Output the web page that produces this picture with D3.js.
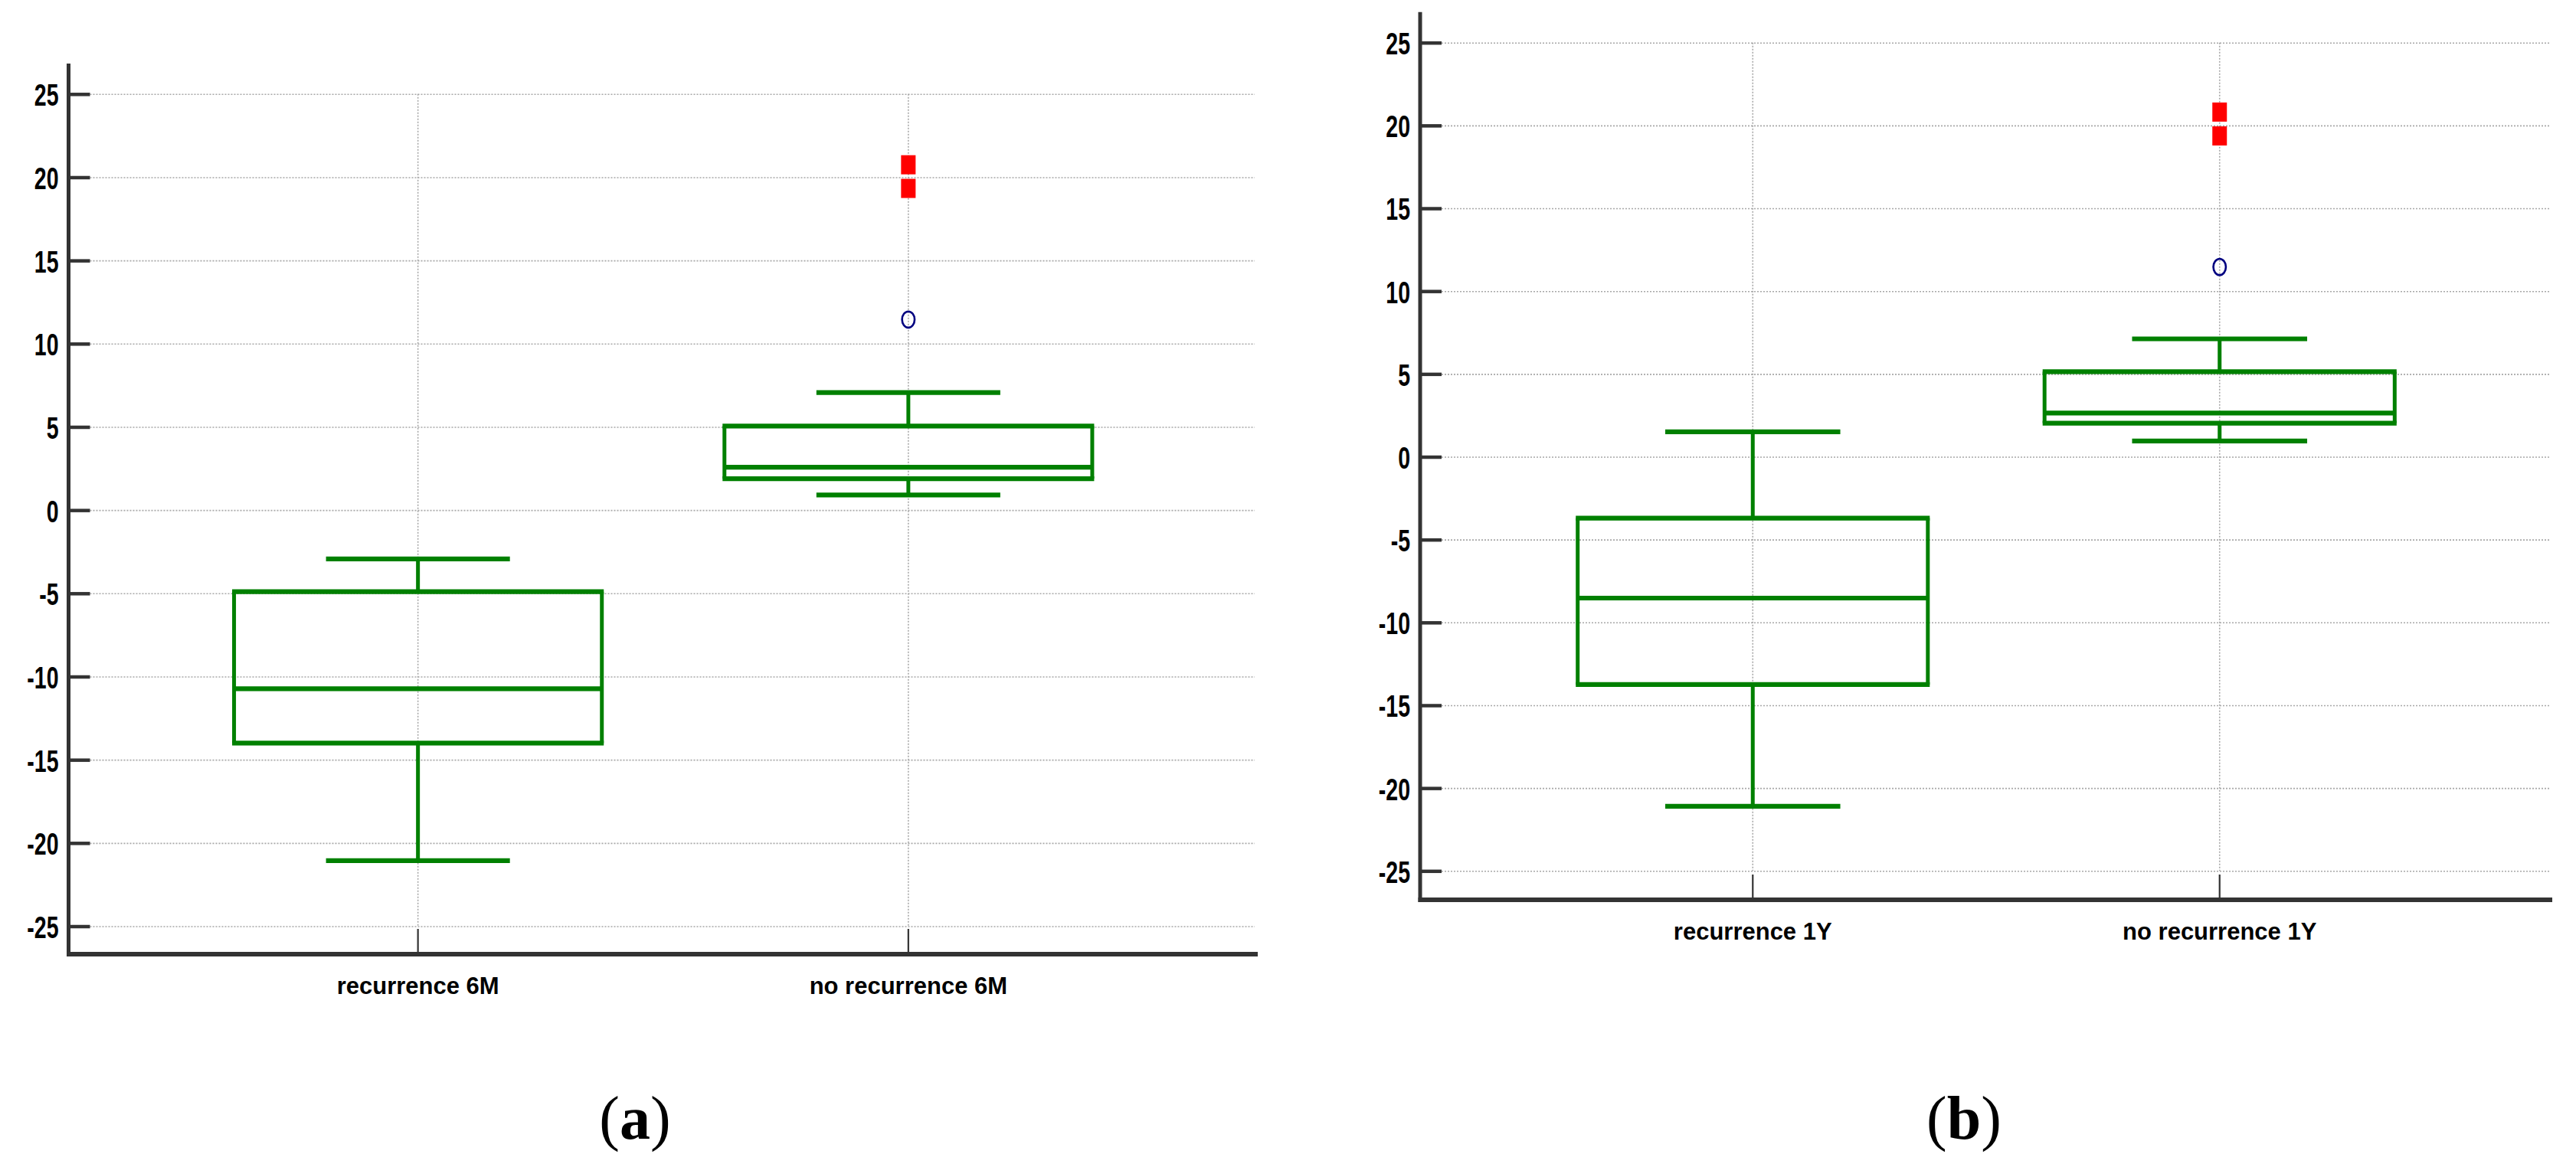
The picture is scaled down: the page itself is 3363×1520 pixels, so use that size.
<!DOCTYPE html>
<html>
<head>
<meta charset="utf-8">
<script src="https://cdn.jsdelivr.net/npm/d3@7"></script>
<style>
  html, body { margin: 0; padding: 0; background: #fff; }
  svg { display: block; }
</style>
</head>
<body>
<script>
// ---------------- DATA ----------------
const yTicks = [-25, -20, -15, -10, -5, 0, 5, 10, 15, 20, 25];

const categoriesA = ["recurrence 6M", "no recurrence 6M"];
const whiskerLowA  = [-21.06, 0.91];
const q1A          = [-14.0, 1.89];
const medianA      = [-10.73, 2.58];
const q3A          = [-4.9, 5.05];
const whiskerHighA = [-2.93, 7.06];
const outliersA    = [[], [11.45]];
const farOutliersA = [[], [20.75, 19.33]];

const categoriesB = ["recurrence 1Y", "no recurrence 1Y"];
const whiskerLowB  = [-21.1, 0.95];
const q1B          = [-13.75, 2.03];
const medianB      = [-8.53, 2.64];
const q3B          = [-3.70, 5.14];
const whiskerHighB = [1.51, 7.12];
const outliersB    = [[], [11.46]];
const farOutliersB = [[], [20.81, 19.37]];

const captionLetters = ["a", "b"];

// ---------------- LAYOUT ----------------
const W = 3363, H = 1520;
const svg = d3.select("body").append("svg").attr("width", W).attr("height", H);
svg.append("rect").attr("width", W).attr("height", H).attr("fill", "#fff");

const panels = [
  { cats: categoriesA, lo: whiskerLowA, q1: q1A, med: medianA, q3: q3A, hi: whiskerHighA,
    out: outliersA, far: farOutliersA, letter: captionLetters[0],
    left: 89.5, right: 1642, top: 83, bottom: 1246, y25: 122.8, yM25: 1209.5, capX: 829 },
  { cats: categoriesB, lo: whiskerLowB, q1: q1B, med: medianB, q3: q3B, hi: whiskerHighB,
    out: outliersB, far: farOutliersB, letter: captionLetters[1],
    left: 1854, right: 3332, top: 15.7, bottom: 1175, y25: 55.7, yM25: 1137.3, capX: 2564 }
];

const green = "#008000";
const axisColor = "#333333";
const gridColor = "#a8a8a8";

panels.forEach(p => {
  const g = svg.append("g");
  const y = d3.scaleLinear().domain([-25, 25]).range([p.yM25, p.y25]);
  const x = d3.scalePoint().domain(p.cats).range([p.left, p.right]).padding(0.7125);
  const step = x.step();
  const boxW = step * 0.75, capW = step * 0.375;

  // horizontal grid
  const grid = g.append("g").attr("transform", `translate(${p.left},0)`)
    .call(d3.axisLeft(y).tickValues(yTicks).tickSize(-(p.right - 4 - p.left)).tickFormat(""));
  grid.select(".domain").remove();
  grid.selectAll("line").attr("stroke", gridColor).attr("stroke-width", 1.6).attr("stroke-dasharray", "2,2");

  // vertical grid
  g.append("g").selectAll("line").data(p.cats).join("line")
    .attr("x1", d => x(d)).attr("x2", d => x(d))
    .attr("y1", y(25)).attr("y2", y(-25))
    .attr("stroke", gridColor).attr("stroke-width", 1.6).attr("stroke-dasharray", "2,2");

  // category tick marks
  g.append("g").selectAll("line").data(p.cats).join("line")
    .attr("x1", d => x(d)).attr("x2", d => x(d))
    .attr("y1", p.bottom - 33).attr("y2", p.bottom)
    .attr("stroke", axisColor).attr("stroke-width", 2.2);

  // y axis ticks + labels
  const ax = g.append("g").attr("transform", `translate(${p.left},0)`)
    .call(d3.axisLeft(y).tickValues(yTicks).tickSize(-28).tickPadding(12).tickFormat(d => String(d)));
  ax.select(".domain").remove();
  ax.selectAll("line").attr("stroke", axisColor).attr("stroke-width", 4.5);
  ax.selectAll("text")
    .attr("x", null).attr("dy", null)
    .attr("transform", "translate(-13,0) scale(1,1.45)")
    .attr("dy", "0.36em")
    .attr("fill", "#000")
    .style("font-family", "'Liberation Sans', Arial, sans-serif")
    .style("font-weight", "bold")
    .style("font-size", "28.5px");

  // axis lines
  g.append("line").attr("x1", p.left).attr("x2", p.left).attr("y1", p.top).attr("y2", p.bottom + 3)
    .attr("stroke", axisColor).attr("stroke-width", 5);
  g.append("line").attr("x1", p.left - 2.5).attr("x2", p.right).attr("y1", p.bottom).attr("y2", p.bottom)
    .attr("stroke", axisColor).attr("stroke-width", 6);

  // x labels
  g.append("g").selectAll("text").data(p.cats).join("text")
    .attr("x", d => x(d)).attr("y", p.bottom + 52)
    .attr("text-anchor", "middle")
    .style("font-family", "'Liberation Sans', Arial, sans-serif")
    .style("font-weight", "bold").style("font-size", "31px")
    .text(d => d);

  // boxes
  const idx = d3.range(p.cats.length);
  const bx = g.append("g");
  const hLine = (xc, w, v, sw) => bx.append("line")
    .attr("x1", xc - w / 2).attr("x2", xc + w / 2).attr("y1", y(v)).attr("y2", y(v))
    .attr("stroke", green).attr("stroke-width", sw);
  const vLine = (xx, v1, v2, sw) => bx.append("line")
    .attr("x1", xx).attr("x2", xx).attr("y1", y(v1)).attr("y2", y(v2))
    .attr("stroke", green).attr("stroke-width", sw);
  idx.forEach(i => {
    const xc = x(p.cats[i]);
    vLine(xc, p.lo[i], p.q1[i], 5);
    vLine(xc, p.q3[i], p.hi[i], 5);
    hLine(xc, capW, p.lo[i], 6.2);
    hLine(xc, capW, p.hi[i], 6.2);
    vLine(xc - boxW / 2, p.q1[i], p.q3[i], 5);
    vLine(xc + boxW / 2, p.q1[i], p.q3[i], 5);
    bx.select("line:last-child");
    hLine(xc, boxW + 5, p.q1[i], 6.2);
    hLine(xc, boxW + 5, p.q3[i], 6.2);
    hLine(xc, boxW, p.med[i], 6.2);

    // outliers
    bx.selectAll(null).data(p.out[i]).join("ellipse")
      .attr("cx", xc).attr("cy", v => y(v)).attr("rx", 8.2).attr("ry", 10.6)
      .attr("fill", "none").attr("stroke", "#000080").attr("stroke-width", 2.6);
    bx.selectAll(null).data(p.far[i]).join("rect")
      .attr("x", xc - 9.5).attr("y", v => y(v) - 12.5).attr("width", 19).attr("height", 25)
      .attr("fill", "#ff0000");
  });

  // caption
  const cap = svg.append("text").attr("x", p.capX).attr("y", 1487)
    .attr("text-anchor", "middle")
    .style("font-family", "'Liberation Serif', 'Times New Roman', serif")
    .style("font-size", "80px");
  cap.append("tspan").text("(");
  cap.append("tspan").style("font-weight", "bold").text(p.letter);
  cap.append("tspan").text(")");
});
</script>
</body>
</html>
